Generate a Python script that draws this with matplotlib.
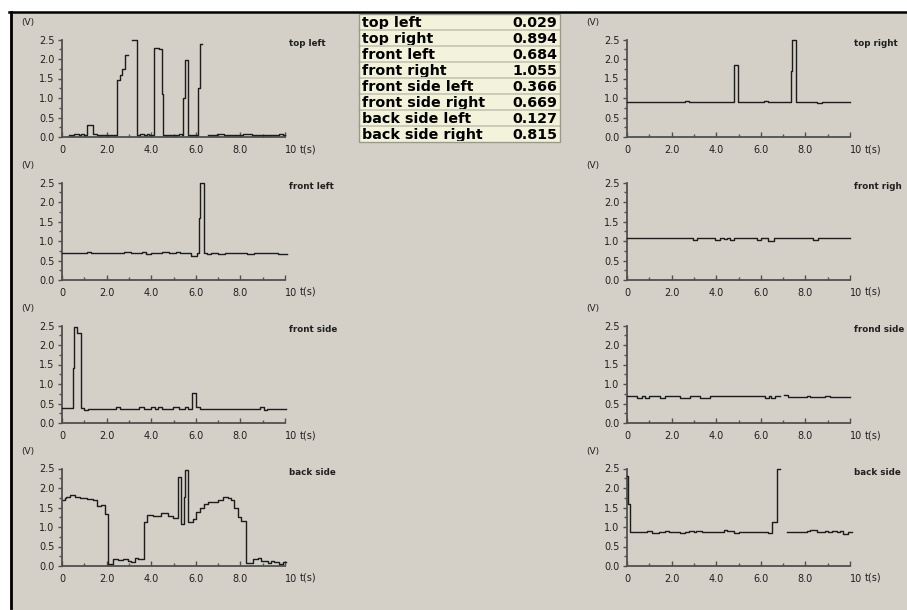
import numpy as np
import matplotlib
matplotlib.use('Agg')
import matplotlib.pyplot as plt
from matplotlib.patches import Rectangle
from matplotlib.lines import Line2D
from matplotlib.ticker import FixedLocator

nan = np.nan
W, H = 907, 610

# ---------------- data ----------------
t_top_left = [0.33, 0.55, 0.75, 0.85, 1.0, 1.14, 1.38, 1.55, 2.45, 2.6, 2.68, 2.83, 2.95, 3.15, 3.35, 3.5, 3.68, 3.8, 3.9, 4.13,
              4.33, 4.47, 4.54, 5.25, 5.4, 5.44, 5.51, 5.66, 6.1, 6.18, 6.3, 6.56, 6.95, 7.25, 8.1, 8.5, 9.75, 9.9, 10.0]
v_top_left = [0.05, 0.07, 0.04, 0.07, 0.05, 0.3, 0.08, 0.04, 1.45, 1.6, 1.75, 2.1, nan, 2.5, 0.05, 0.08, 0.05, 0.07, 0.05, 2.28,
              2.25, 1.1, 0.05, 0.07, 0.05, 1.0, 1.97, 0.05, 1.25, 2.38, nan, 0.05, 0.07, 0.05, 0.07, 0.05, 0.07, 0.05, 0.05]

t_top_right = [0, 2.6, 2.8, 4.78, 4.96, 6.16, 6.34, 7.34, 7.4, 7.58, 8.5, 8.73, 10.0]
v_top_right = [0.9, 0.93, 0.9, 1.85, 0.9, 0.93, 0.9, 1.68, 2.48, 0.9, 0.87, 0.9, 0.9]

t_front_left = [0, 0.5, 0.75, 1.1, 1.3, 1.45, 2.0, 2.3, 2.8, 3.1, 3.6, 3.75, 4.0, 4.3, 4.5, 4.8, 5.1, 5.3, 5.6, 5.8,
                6.05, 6.14, 6.18, 6.37, 6.5, 6.7, 7.0, 7.3, 7.6, 8.0, 8.3, 8.6, 9.0, 9.3, 9.7, 10.1]
v_front_left = [0.7, 0.68, 0.69, 0.71, 0.68, 0.7, 0.69, 0.68, 0.71, 0.7, 0.73, 0.66, 0.69, 0.68, 0.71, 0.69, 0.71, 0.68, 0.7, 0.61,
                0.68, 1.58, 2.5, 0.7, 0.66, 0.68, 0.66, 0.7, 0.68, 0.7, 0.66, 0.7, 0.69, 0.68, 0.66, 0.66]

t_front_right = [0, 2.94, 3.13, 3.96, 4.15, 4.33, 4.48, 4.63, 4.82, 5.82, 6.01, 6.31, 6.57, 8.33, 8.55, 10.0]
v_front_right = [1.07, 1.03, 1.07, 1.03, 1.07, 1.04, 1.07, 1.03, 1.07, 1.03, 1.07, 1.01, 1.07, 1.03, 1.07, 1.07]

t_front_side_left = [0, 0.48, 0.54, 0.69, 0.83, 0.98, 1.18, 2.44, 2.62, 3.46, 3.67, 3.98, 4.16, 4.31, 4.49, 4.98, 5.23,
                     5.5, 5.65, 5.83, 6.02, 6.17, 8.88, 9.08, 9.2, 10.05]
v_front_side_left = [0.38, 1.4, 2.45, 2.32, 0.38, 0.34, 0.37, 0.4, 0.37, 0.4, 0.37, 0.4, 0.37, 0.4, 0.37, 0.4, 0.37,
                     0.4, 0.37, 0.78, 0.4, 0.37, 0.4, 0.34, 0.37, 0.37]

t_front_side_right = [0, 0.45, 0.67, 0.82, 0.97, 1.5, 1.72, 2.39, 2.84, 3.28, 3.73, 6.19, 6.39, 6.46, 6.64, 6.87,
                      7.02, 7.24, 8.06, 8.21, 8.88, 9.1, 10.0]
v_front_side_right = [0.68, 0.65, 0.68, 0.65, 0.68, 0.65, 0.68, 0.65, 0.68, 0.65, 0.68, 0.65, 0.68, 0.65, 0.68, nan,
                      0.72, 0.67, 0.7, 0.67, 0.7, 0.67, 0.67]

t_back_side_left = [0.03, 0.13, 0.2, 0.36, 0.58, 0.8, 1.1, 1.4, 1.55, 1.77, 1.92, 2.07, 2.29, 2.52, 2.74, 2.97, 3.11, 3.26,
                    3.41, 3.67, 3.83, 4.08, 4.46, 4.75, 4.98, 5.2, 5.32, 5.48, 5.52, 5.65, 5.87, 6.02, 6.17, 6.36, 6.54,
                    6.77, 6.99, 7.21, 7.44, 7.59, 7.73, 7.88, 8.03, 8.26, 8.55, 8.78, 8.93, 9.08, 9.22, 9.37, 9.52, 9.75,
                    9.9, 10.05]
v_back_side_left = [1.68, 1.75, 1.78, 1.82, 1.78, 1.74, 1.73, 1.68, 1.55, 1.57, 1.33, 0.05, 0.17, 0.15, 0.17, 0.14, 0.1, 0.2,
                    0.18, 1.12, 1.32, 1.28, 1.35, 1.28, 1.23, 2.27, 1.07, 1.78, 2.45, 1.12, 1.2, 1.38, 1.5, 1.6, 1.63,
                    1.65, 1.7, 1.77, 1.75, 1.7, 1.5, 1.25, 1.15, 0.07, 0.18, 0.2, 0.12, 0.14, 0.08, 0.13, 0.1, 0.06,
                    0.11, 0.11]

t_back_side_right = [0, 0.05, 0.13, 0.45, 0.6, 0.75, 0.9, 1.12, 1.42, 1.72, 1.87, 2.39, 2.61, 2.76, 2.99, 3.1, 3.36, 3.5,
                     4.33, 4.48, 4.78, 5.0, 6.34, 6.49, 6.72, 6.84, 7.16, 7.39, 7.54, 7.69, 8.06, 8.21, 8.51, 8.88, 9.03,
                     9.18, 9.4, 9.55, 9.7, 9.93, 10.1]
v_back_side_right = [2.3, 1.58, 0.88, 0.86, 0.88, 0.86, 0.9, 0.84, 0.86, 0.9, 0.86, 0.84, 0.86, 0.9, 0.86, 0.9, 0.88, 0.86,
                     0.93, 0.9, 0.84, 0.86, 0.84, 1.12, 2.5, nan, 0.88, 0.86, 0.88, 0.86, 0.9, 0.92, 0.86, 0.9, 0.86,
                     0.9, 0.86, 0.9, 0.83, 0.86, 0.86]

panel_titles = ['top left', 'top right', 'front left', 'front righ',
                'front side', 'frond side', 'back side', 'back side']
panel_series = [(t_top_left, v_top_left), (t_top_right, v_top_right),
                (t_front_left, v_front_left), (t_front_right, v_front_right),
                (t_front_side_left, v_front_side_left), (t_front_side_right, v_front_side_right),
                (t_back_side_left, v_back_side_left), (t_back_side_right, v_back_side_right)]

table_labels = ['top left', 'top right', 'front left', 'front right',
                'front side left', 'front side right', 'back side left', 'back side right']
table_values = ['0.029', '0.894', '0.684', '1.055', '0.366', '0.669', '0.127', '0.815']

x_ticks = [0, 2, 4, 6, 8, 10]
x_tick_labels = ['0', '2.0', '4.0', '6.0', '8.0', '10']
y_ticks = [0.0, 0.5, 1.0, 1.5, 2.0, 2.5]
y_tick_labels = ['0.0', '0.5', '1.0', '1.5', '2.0', '2.5']

# ---------------- figure ----------------
BG = '#d4d0c8'
TAB_BG = '#f3f3dc'
LINE = '#1c1c1c'
AX = '#505050'

fig = plt.figure(figsize=(W / 100, H / 100), dpi=100)
fig.patch.set_facecolor('white')


def fx(px):
    return px / W


def fy(py):
    return 1 - py / H


# gray window area
fig.patches.append(Rectangle((fx(10), 0), 1 - fx(10), fy(12), transform=fig.transFigure,
                             facecolor=BG, edgecolor='none', zorder=-10))
# black frame lines
fig.lines.append(Line2D([fx(9), 1], [fy(12.2), fy(12.2)], transform=fig.transFigure, color='black',
                        lw=1.8, zorder=8))
fig.lines.append(Line2D([fx(10.5), fx(10.5)], [fy(12), fy(608)], transform=fig.transFigure, color='black',
                        lw=2.0, zorder=8))

col_x = [62, 627]
ax_w = 223
row_top = [39.5, 182.5, 325.5, 468.5]
ax_h = 97.5

for i, (title, (tt, vv)) in enumerate(zip(panel_titles, panel_series)):
    r, c = divmod(i, 2)
    x0 = col_x[c]
    y0 = row_top[r]
    ax = fig.add_axes([fx(x0), fy(y0 + ax_h), fx(ax_w), ax_h / H])
    ax.set_facecolor('none')
    ax.step(tt, vv, where='post', color=LINE, lw=1.0, clip_on=False, zorder=3)
    ax.set_xlim(0, 10)
    ax.set_ylim(0, 2.5)
    for s in ['top', 'right']:
        ax.spines[s].set_visible(False)
    for s in ['left', 'bottom']:
        ax.spines[s].set_color(AX)
        ax.spines[s].set_linewidth(1.3)
    ax.xaxis.set_major_locator(FixedLocator(x_ticks))
    ax.xaxis.set_minor_locator(FixedLocator([1, 3, 5, 7, 9]))
    ax.yaxis.set_major_locator(FixedLocator(y_ticks))
    ax.yaxis.set_minor_locator(FixedLocator([0.25, 0.75, 1.25, 1.75, 2.25]))
    ax.set_xticklabels(x_tick_labels)
    ax.set_yticklabels(y_tick_labels)
    ax.tick_params(axis='x', which='major', direction='in', length=3.5, width=1, color=AX,
                   labelsize=7, pad=5.5, labelcolor='#202020')
    ax.tick_params(axis='x', which='minor', direction='in', length=2.5, width=1, color=AX)
    ax.tick_params(axis='y', which='major', direction='out', length=3, width=1, color=AX,
                   labelsize=7, pad=2.5, labelcolor='#202020')
    ax.tick_params(axis='y', which='minor', direction='out', length=2, width=1, color=AX)
    lbls = ax.get_xticklabels()
    lbls[-1].set_horizontalalignment('left')
    # axis unit labels
    fig.text(fx(x0 + ax_w + 15), fy(y0 + ax_h + 12), 't(s)', fontsize=7, color='#202020',
             ha='left', va='center')
    fig.text(fx(x0 - 34), fy(y0 - 17), '(V)', fontsize=6.5, color='#202020', ha='center', va='center')
    fig.text(fx(x0 + ax_w + 4), fy(y0 + 4), title, fontsize=6.3, color='#202020',
             ha='left', va='center', fontweight='bold')

# ---------------- value table ----------------
tab_x0, tab_x1 = 359, 560
row_h = 16.0
first_top = 14.0
fig.patches.append(Rectangle((fx(tab_x0), fy(first_top + 8 * row_h)), fx(tab_x1 - tab_x0), 8 * row_h / H,
                             transform=fig.transFigure, facecolor=TAB_BG, edgecolor='none', zorder=-5))
for k, (lab, val) in enumerate(zip(table_labels, table_values)):
    top = first_top + k * row_h
    bot = top + row_h
    base = bot - 2.7
    for txt, xx, ha in [(lab, tab_x0 + 3, 'left'), (val, tab_x1 - 3, 'right')]:
        fig.text(fx(xx), fy(base), txt, fontsize=10.3, fontweight='bold', color='black',
                 ha=ha, va='baseline', zorder=4)
    # descenders are cut off by the cell below
    fig.patches.append(Rectangle((fx(tab_x0 + 1), fy(bot + 0.5)), fx(tab_x1 - tab_x0 - 2), (bot + 0.5 - base - 1.3) / H,
                                 transform=fig.transFigure, facecolor=TAB_BG, edgecolor='none', zorder=5))
    if k < 7:
        fig.lines.append(Line2D([fx(tab_x0), fx(tab_x1)], [fy(bot), fy(bot)], transform=fig.transFigure,
                                color='#c4c4b0', lw=1.2, zorder=6))
fig.patches.append(Rectangle((fx(tab_x0), fy(first_top + 8 * row_h)), fx(tab_x1 - tab_x0), 8 * row_h / H,
                             transform=fig.transFigure, facecolor='none', edgecolor='#9a9a8c', lw=1.0, zorder=7))

fig.savefig('out.png', dpi=100, facecolor=fig.get_facecolor())
